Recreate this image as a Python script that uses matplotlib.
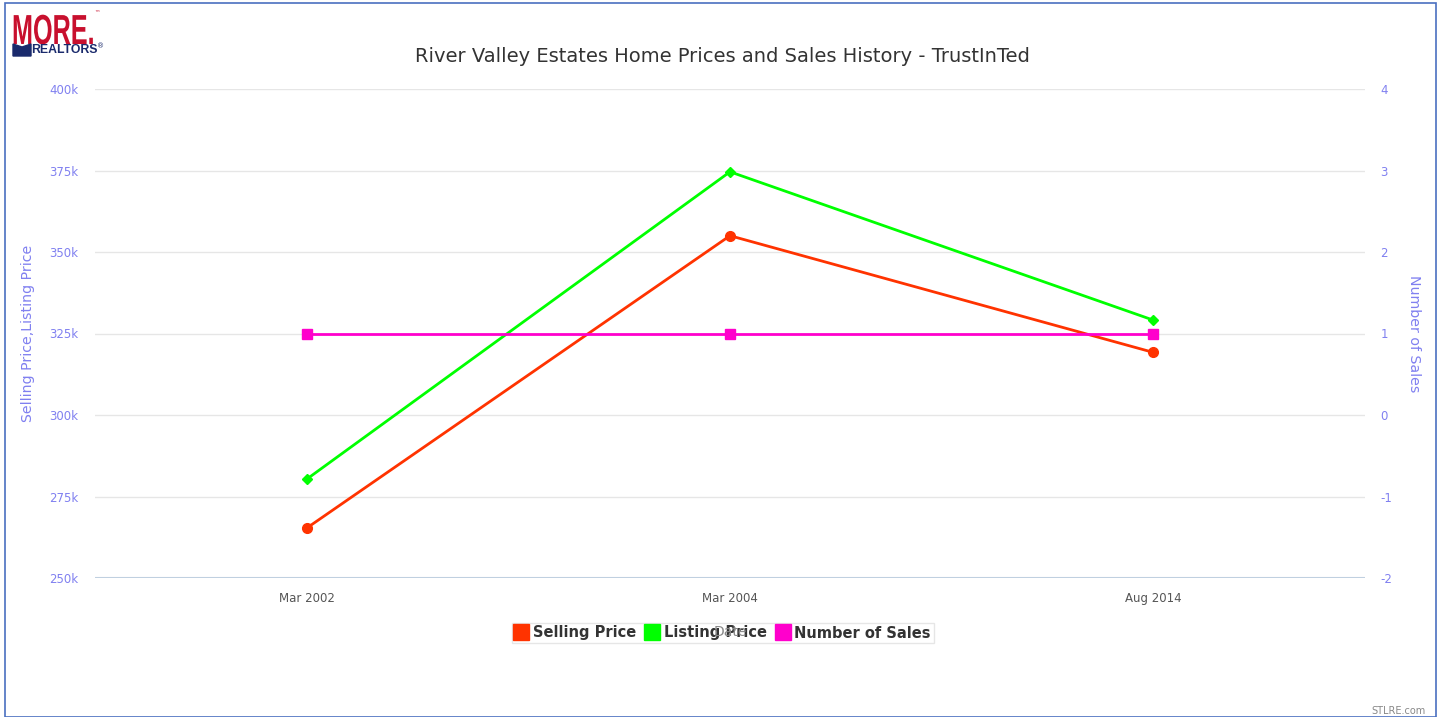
import matplotlib
matplotlib.use("Agg")
import matplotlib.pyplot as plt
from matplotlib.patches import Rectangle, PathPatch
from matplotlib.lines import Line2D
from matplotlib.textpath import TextPath
from matplotlib.font_manager import FontProperties
import matplotlib.transforms as mtransforms

dates = ["Mar 2002", "Mar 2004", "Aug 2014"]
selling_price = [265300, 355000, 319200]
listing_price = [280300, 374600, 329100]
number_of_sales = [1, 1, 1]

left_ticks = [250000, 275000, 300000, 325000, 350000, 375000, 400000]
left_labels = ["250k", "275k", "300k", "325k", "350k", "375k", "400k"]
right_ticks = [-2, -1, 0, 1, 2, 3, 4]
right_labels = ["-2", "-1", "0", "1", "2", "3", "4"]

W, H = 1441, 717
fig = plt.figure(figsize=(W / 100, H / 100), dpi=100)

# Outer border
fig.patches.append(Rectangle((5 / W, 0), (1436 - 5) / W, (H - 3) / H, transform=fig.transFigure,
                             fill=False, edgecolor="#4a6fc0", linewidth=1.2))

ax = fig.add_axes([95 / W, 1 - 578 / H, (1365 - 95) / W, (578 - 89) / H])
ax2 = ax.twinx()

x = list(range(len(dates)))
tick_color = "#8080f0"

ax.plot(x, selling_price, color="#ff3300", linewidth=2, marker="o", markersize=7, zorder=3)
ax.plot(x, listing_price, color="#00ff00", linewidth=2, marker="D", markersize=5, zorder=3)
ax2.plot(x, number_of_sales, color="#ff00cc", linewidth=2, marker="s", markersize=7, zorder=3)

ax.set_xlim(-0.5, 2.5)
ax.set_ylim(250000, 400000)
ax2.set_ylim(-2, 4)
ax.set_yticks(left_ticks)
ax.set_yticklabels(left_labels)
ax2.set_yticks(right_ticks)
ax2.set_yticklabels(right_labels)
ax.set_xticks(x)
ax.set_xticklabels(dates)

ax.grid(axis="y", color="#e6e6e6", linewidth=1)
ax.set_axisbelow(True)
for a in (ax, ax2):
    for s in ("top", "right", "left", "bottom"):
        a.spines[s].set_visible(False)
ax.axhline(250000, color="#c0d0e0", linewidth=1.5, zorder=2)

ax.tick_params(axis="y", length=0, pad=12, labelcolor=tick_color, labelsize=8.5)
ax2.tick_params(axis="y", length=0, pad=11, labelcolor=tick_color, labelsize=8.5)
ax.tick_params(axis="x", length=0, pad=10, labelcolor="#555555", labelsize=8.5)

ax.set_ylabel("Selling Price,Listing Price", color=tick_color, fontsize=10.2, labelpad=10)
ax2.set_ylabel("Number of Sales", color=tick_color, fontsize=10.2, rotation=270, labelpad=21)

fig.text(722 / W, 1 - 56 / H, "River Valley Estates Home Prices and Sales History - TrustInTed",
         ha="center", va="center", fontsize=14, color="#333333")

# Legend
handles = [Line2D([], [], color=c, marker="s", linestyle="none", markersize=11)
           for c in ("#ff3300", "#00ff00", "#ff00cc")]
leg = fig.legend(handles, ["Selling Price", "Listing Price", "Number of Sales"],
                 loc="center", bbox_to_anchor=(723 / W, 1 - 633 / H), ncol=3,
                 frameon=True, fancybox=False, handlelength=0.8, handletextpad=0.4,
                 columnspacing=0.7, borderpad=0.2,
                 prop={"weight": "bold", "size": 10.5})
leg.get_frame().set_edgecolor("#e0e0e0")
for t in leg.get_texts():
    t.set_color("#333333")

fig.text(730 / W, 1 - 632 / H, "Date", ha="center", va="center", fontsize=10, color="#888888", zorder=10)

# Logo (condensed bold text via scaled path)
fp = FontProperties(family="Liberation Sans", weight="bold")
tp = TextPath((0, 0), "MORE.", size=42, prop=fp)
tr = mtransforms.Affine2D().scale(0.6, 1.0).translate(12, H - 44) + mtransforms.IdentityTransform()
logo = PathPatch(tp, color="#c8102e", lw=0, transform=tr)
fig.patches.append(logo)
fig.text(94 / W, 1 - 13 / H, "™", ha="left", va="center", fontsize=4, color="#c8102e")
fig.text(31 / W, 1 - 50 / H, "REALTORS", ha="left", va="center", fontsize=8.8, fontweight="bold",
         color="#1a2a6c", family="Liberation Sans")
fig.text(97 / W, 1 - 46 / H, "®", ha="left", va="center", fontsize=5, color="#1a2a6c")
fig.patches.append(plt.Polygon([[13 / W, 1 - 56 / H], [13 / W, 1 - 44 / H], [22 / W, 1 - 47 / H],
                                [31 / W, 1 - 44 / H], [31 / W, 1 - 56 / H]],
                               closed=True, transform=fig.transFigure, color="#1a2a6c"))

fig.text(1426 / W, 1 - 711 / H, "STLRE.com", ha="right", va="center", fontsize=7, color="#888888")

fig.savefig("out.png", dpi=100)
